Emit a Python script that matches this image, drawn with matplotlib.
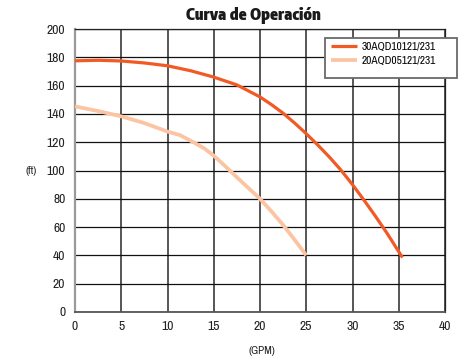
import matplotlib
matplotlib.use("Agg")
import matplotlib.pyplot as plt
from matplotlib.patches import Rectangle

BODY = ['Archivo Narrow', 'Liberation Sans', 'DejaVu Sans']
TITLE = ['Encode Sans Condensed', 'Liberation Sans', 'DejaVu Sans']
plt.rcParams['font.family'] = BODY

title = "Curva de Operación"
series1_name = "30AQD10121/231"
series2_name = "20AQD05121/231"
gpm1 = [0, 2.5, 5, 7.5, 10, 12.5, 15, 17.5, 20, 21.25, 22.5, 23.75, 25, 26.25,
        27.5, 28.75, 30, 31.25, 32.5, 33.75, 35.4]
ft1 = [177.5, 177.9, 177.4, 176, 174, 170.5, 166, 160.5, 152, 146.5, 140.5, 133.5,
       126, 118, 109.5, 100.3, 90, 79, 67.5, 55.5, 38.5]
gpm2 = [0, 2.5, 5, 7.5, 10, 11.35, 12.8, 14, 15, 16.25, 17.5, 18.75, 20, 21.25,
        22.5, 23.75, 25]
ft2 = [145.3, 142, 138.3, 133.5, 127.5, 125, 120, 115.5, 110.5, 103, 95.2, 87.6,
       80, 71, 61.5, 51, 40]
xticks = [0, 5, 10, 15, 20, 25, 30, 35, 40]
yticks = [0, 20, 40, 60, 80, 100, 120, 140, 160, 180, 200]

W, H = 468, 363
fig = plt.figure(figsize=(W / 100, H / 100), dpi=100)
ax = fig.add_axes([75 / W, 1 - 312 / H, 370 / W, 283 / H])

ax.plot(gpm2, ft2, color="#FBC4A2", lw=2.7, label=series2_name,
        solid_capstyle='butt', solid_joinstyle='round', zorder=3)
ax.plot(gpm1, ft1, color="#F15A24", lw=2.3, label=series1_name,
        solid_capstyle='butt', solid_joinstyle='round', zorder=4)

ax.set_xlim(0, 40)
ax.set_ylim(0, 200)
ax.set_xticks(xticks)
ax.set_yticks(yticks)
ax.tick_params(length=0, labelsize=9.8, colors="#222222")
ax.tick_params(axis='y', pad=7)
ax.tick_params(axis='x', pad=6.5)
ax.xaxis.grid(True, color="#3a3a3a", lw=1.2)
ax.yaxis.grid(True, color="#111111", lw=0.9)
ax.set_axisbelow(True)
for side in ['top', 'right']:
    ax.spines[side].set_color("#222222")
    ax.spines[side].set_linewidth(0.9)
ax.spines['left'].set_color("#9a9a9a")
ax.spines['left'].set_linewidth(1.6)
ax.spines['bottom'].set_color("#555555")
ax.spines['bottom'].set_linewidth(1.3)

fig.text(253 / W, 1 - 16 / H, title, ha='center', va='center', fontsize=11.5,
         fontweight='black', color="#1a1a1a", family=TITLE)
fig.text(31 / W, 1 - 170.5 / H, "(ft)", ha='center', va='center', fontsize=8, color="#222222")
fig.text(262 / W, 1 - 351.5 / H, "(GPM)", ha='center', va='center', fontsize=8, color="#222222")

# legend box
box = Rectangle((325 / W, 1 - 78 / H), 132 / W, 40 / H, transform=fig.transFigure,
                facecolor='white', edgecolor="#6a6a6a", lw=1.3, zorder=5)
fig.patches.append(box)
h, l = ax.get_legend_handles_labels()
leg = fig.legend(h[::-1], l[::-1], loc='upper left',
                 bbox_to_anchor=(329 / W, 1 - 40 / H), bbox_transform=fig.transFigure,
                 frameon=False, fontsize=8.2, handlelength=2.3, handletextpad=0.4,
                 labelspacing=0.3, borderpad=0.2, borderaxespad=0)
leg.set_zorder(6)
fig.savefig("out.png", dpi=100)
